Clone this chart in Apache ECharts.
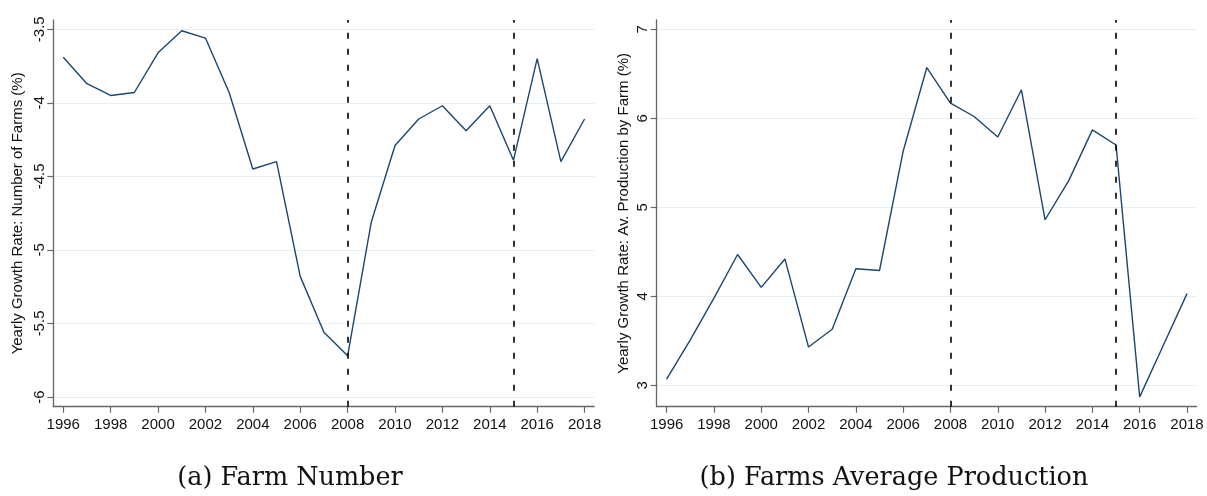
<!DOCTYPE html>
<html>
<head>
<meta charset="utf-8">
<script src="https://cdn.jsdelivr.net/npm/echarts@6/dist/echarts.min.js"></script>
<style>
  html, body { margin: 0; padding: 0; background: #ffffff; }
  #chart { width: 1207px; height: 496px; }
</style>
</head>
<body>
<div id="chart"></div>
<script>
// ---- data ----
const years = [1996,1997,1998,1999,2000,2001,2002,2003,2004,2005,2006,2007,2008,2009,2010,2011,2012,2013,2014,2015,2016,2017,2018];
const farmNumberGrowth = [-3.69,-3.87,-3.95,-3.93,-3.66,-3.51,-3.56,-3.93,-4.45,-4.40,-5.18,-5.56,-5.72,-4.81,-4.29,-4.11,-4.02,-4.19,-4.02,-4.39,-3.70,-4.40,-4.11];
const avgProductionGrowth = [3.07,3.51,3.98,4.47,4.10,4.42,3.43,3.63,4.31,4.29,5.63,6.57,6.17,6.02,5.79,6.32,4.86,5.30,5.87,5.70,2.87,3.45,4.03];
const xTickLabels = [1996,1998,2000,2002,2004,2006,2008,2010,2012,2014,2016,2018];
const leftYTicks = [-6,-5.5,-5,-4.5,-4,-3.5];
const rightYTicks = [3,4,5,6,7];
const breakYears = [2008, 2015];
const leftYTitle = 'Yearly Growth Rate: Number of Farms (%)';
const rightYTitle = 'Yearly Growth Rate: Av. Production by Farm (%)';
const captionA = '(a) Farm Number';
const captionB = '(b) Farms Average Production';

// ---- styling ----
const axisColor = '#666666';
const gridColor = '#e6eff1';
const lineColor = '#1a476f';
const sansFont = 'Liberation Sans, Arial, sans-serif';

function xAxisCfg(gridIndex) {
  return {
    type: 'value', gridIndex: gridIndex,
    min: 1995.58, max: 2018.41,
    axisLine: { show: true, onZero: false, lineStyle: { color: axisColor, width: 1.3 } },
    axisTick: { show: true, length: 6, customValues: xTickLabels, lineStyle: { color: axisColor, width: 1.2 } },
    axisLabel: { customValues: xTickLabels, margin: 11, color: '#111', fontSize: 15, fontFamily: sansFont, formatter: v => String(v) },
    splitLine: { show: false }
  };
}
function yAxisCfg(gridIndex, min, max, ticks, title, nameGap) {
  return {
    type: 'value', gridIndex: gridIndex,
    min: min, max: max,
    name: title, nameLocation: 'middle', nameGap: nameGap, nameRotate: 90,
    nameTextStyle: { color: '#111', fontSize: 15, fontFamily: sansFont },
    axisLine: { show: true, onZero: false, lineStyle: { color: axisColor, width: 1.3 } },
    axisTick: { show: true, length: 6, customValues: ticks, lineStyle: { color: axisColor, width: 1.2 } },
    axisLabel: { customValues: ticks, rotate: 90, margin: 6, color: '#111', fontSize: 15, fontFamily: sansFont, formatter: v => String(v) },
    splitLine: { show: true, lineStyle: { color: gridColor, width: 1.2 } }
  };
}
function seriesCfg(idx, values) {
  return {
    type: 'line', xAxisIndex: idx, yAxisIndex: idx,
    data: years.map((y, i) => [y, values[i]]),
    symbol: 'none', silent: true,
    lineStyle: { color: lineColor, width: 1.4 },
    markLine: {
      silent: true, symbol: 'none', label: { show: false },
      lineStyle: { color: '#000', type: [6, 10], width: 1.6 },
      data: breakYears.map(b => ({ xAxis: b }))
    }
  };
}

const chart = echarts.init(document.getElementById('chart'), null, { renderer: 'canvas' });
chart.setOption({
  animation: false,
  backgroundColor: '#ffffff',
  grid: [
    { left: 53.3, top: 20, width: 541, height: 386.7 },
    { left: 656.7, top: 20, width: 540, height: 386.7 }
  ],
  xAxis: [xAxisCfg(0), xAxisCfg(1)],
  yAxis: [
    yAxisCfg(0, -6.066, -3.437, leftYTicks, leftYTitle, 28),
    yAxisCfg(1, 2.76, 7.104, rightYTicks, rightYTitle, 25)
  ],
  series: [seriesCfg(0, farmNumberGrowth), seriesCfg(1, avgProductionGrowth)],
  graphic: [
    { type: 'text', x: 290, y: 478, style: { text: captionA, font: '25.5px "DejaVu Serif", serif', fill: '#111', textAlign: 'center', textVerticalAlign: 'middle' } },
    { type: 'text', x: 894, y: 478, style: { text: captionB, font: '25.5px "DejaVu Serif", serif', fill: '#111', textAlign: 'center', textVerticalAlign: 'middle' } }
  ]
});
</script>
</body>
</html>
